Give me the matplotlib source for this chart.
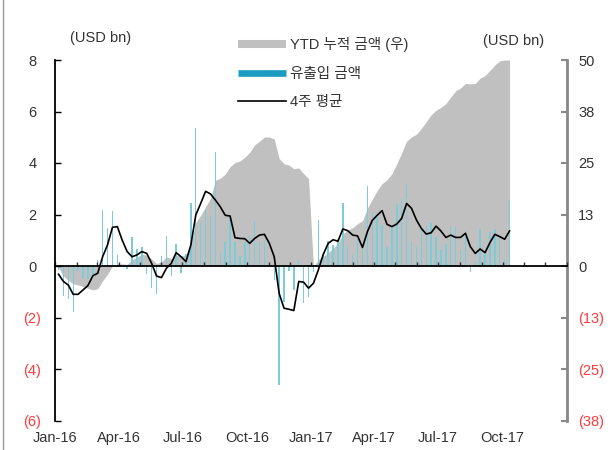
import matplotlib
matplotlib.use('Agg')
import matplotlib.pyplot as plt
from matplotlib.lines import Line2D
import pandas as pd

plt.rcParams['font.family'] = ['Liberation Sans', 'Noto Sans CJK KR']

# ---------------- data ----------------
start_date = '2016-01-06'   # weekly observations
n_weeks = 93

weekly_flow = [
    -0.15, -1.15, -1.30, -1.80, -0.20, -0.48, -0.50, -0.35, 0.23, 2.17,
    1.46, 2.14, 0.43, -0.03, -0.10, 1.11, 0.65, 0.75, -0.31, -0.87,
    -1.09, 0.39, 1.17, -0.38, 0.85, -0.26, 0.45, 2.43, 5.35, 1.66,
    2.17, 1.94, 4.44, 0.49, 0.95, 1.85, 0.95, 0.39, 0.95, 1.20,
    1.76, 0.95, 1.00, 0.05, -0.55, -4.62, -1.39, -0.20, -0.95, 0.22,
    -1.45, -1.20, -0.25, 1.80, 0.52, 0.98, 0.82, 1.04, 2.46, 0.72,
    0.43, 1.04, 0.69, 3.10, 2.07, 2.00, 1.60, 0.75, 1.46, 2.40,
    2.59, 3.18, 0.94, 0.75, 1.40, 1.55, 1.68, 1.14, 0.62, 0.85,
    1.53, 1.50, 0.62, 1.36, -0.22, 0.14, 1.44, 0.47, 1.31, 1.44,
    1.17, 0.27, 2.56,
]

avg_4w = [
    -0.32, -0.60, -0.74, -1.10, -1.10, -0.93, -0.76, -0.38, -0.28, 0.36,
    0.82, 1.50, 1.53, 1.00, 0.56, 0.36, 0.43, 0.56, 0.49, 0.10,
    -0.39, -0.45, -0.09, 0.10, 0.52, 0.36, 0.17, 0.82, 1.98, 2.43,
    2.90, 2.80, 2.56, 2.30, 1.97, 1.94, 1.10, 1.07, 1.06, 0.88,
    1.07, 1.20, 1.23, 0.88, 0.36, -1.06, -1.64, -1.68, -1.73, -0.60,
    -0.63, -0.86, -0.67, -0.15, 0.45, 0.88, 1.02, 0.96, 1.44, 1.37,
    1.20, 1.17, 0.72, 1.33, 1.77, 1.97, 2.15, 1.62, 1.53, 1.63,
    1.85, 2.43, 2.24, 1.79, 1.46, 1.24, 1.29, 1.55, 1.36, 1.11,
    1.20, 1.11, 1.11, 1.27, 0.75, 0.49, 0.66, 0.52, 0.91, 1.23,
    1.14, 1.04, 1.36,
]

ytd_2016 = [
    -0.3, -2.4, -3.5, -4.3, -4.6, -5.0, -5.4, -5.8, -5.5, -3.6,
    -2.0, 0.0, 0.5, 0.5, 0.4, 1.5, 2.1, 2.9, 2.6, 1.7,
    0.6, 1.0, 2.2, 1.8, 2.6, 2.4, 2.8, 5.3, 10.6, 12.3,
    14.4, 16.4, 20.8, 21.3, 22.3, 24.1, 25.1, 25.5, 26.4, 27.6,
    29.4, 30.3, 31.3, 31.3, 30.8, 26.1, 24.8, 24.5, 23.6, 23.8,
    22.4, 21.2,
]
ytd_2017 = [
    -0.2, 1.6, 2.3, 3.3, 4.3, 5.5, 7.8, 8.7, 9.3, 10.3,
    11.0, 14.0, 16.2, 18.3, 20.0, 20.9, 22.4, 24.8, 27.5, 30.3,
    31.3, 32.0, 33.4, 35.0, 36.7, 37.8, 38.5, 39.4, 41.0, 42.5,
    43.2, 44.3, 44.2, 44.3, 45.6, 46.2, 47.5, 48.8, 49.8, 50.0,
    50.0,
]

left_ticks = [-6, -4, -2, 0, 2, 4, 6, 8]
left_labels = ['(6)', '(4)', '(2)', '0', '2', '4', '6', '8']
right_ticks = [-37.5, -25, -12.5, 0, 12.5, 25, 37.5, 50]
right_labels = ['(38)', '(25)', '(13)', '0', '13', '25', '38', '50']
x_tick_dates = ['2016-01-01', '2016-04-01', '2016-07-01', '2016-10-01',
                '2017-01-01', '2017-04-01', '2017-07-01', '2017-10-01']
x_tick_labels = ['Jan-16', 'Apr-16', 'Jul-16', 'Oct-16',
                 'Jan-17', 'Apr-17', 'Jul-17', 'Oct-17']
legend_labels = ['YTD 누적 금액 (우)', '유출입 금액', '4주 평균']
unit_label = '(USD bn)'

# ---------------- styling ----------------
W, H = 613, 450
FS = 10.5
TXT = '#333333'
RED = '#ff3b3b'
AREA = '#c0c0c0'
BAR = '#7ccbd9'
LEG_BAR = '#1a9cc0'

dates = pd.date_range(start_date, periods=n_weeks, freq='7D')
ytd = ytd_2016 + ytd_2017

fig = plt.figure(figsize=(W / 100, H / 100), dpi=100)
ax = fig.add_axes([55 / W, 1 - 420.5 / H, (567 - 55) / W, (420.5 - 60) / H])
ax2 = ax.twinx()
ax.set_zorder(2)
ax2.set_zorder(1)
ax.patch.set_visible(False)

# area on right axis
ax2.fill_between(dates, 0, ytd, color=AREA, lw=0)
# weekly bars and 4-week avg on left axis
ax.bar(dates, weekly_flow, width=2.0, color=BAR, lw=0, zorder=1)
ax.plot(dates, avg_4w, color='black', lw=1.2, zorder=3)

ax.set_xlim(pd.Timestamp('2016-01-01'), pd.Timestamp('2018-01-01'))
ax.set_ylim(-6, 8)
ax2.set_ylim(-37.5, 50)

# spines
ax.spines['top'].set_visible(False)
ax.spines['right'].set_visible(False)
ax.spines['bottom'].set_position(('data', 0))
ax.spines['bottom'].set_color('black')
ax.spines['bottom'].set_linewidth(1.3)
ax.spines['left'].set_color('black')
ax.spines['left'].set_linewidth(1.3)
for s in ['left', 'top', 'bottom']:
    ax2.spines[s].set_visible(False)
ax2.spines['right'].set_color('#888888')
ax2.spines['right'].set_linewidth(2.0)

# left y ticks
ax.set_yticks(left_ticks, left_labels)
ax.tick_params(axis='y', direction='in', length=4, width=1, color='black',
               pad=16.2, labelsize=FS)
for lbl, v in zip(ax.get_yticklabels(), left_ticks):
    lbl.set_color(RED if v < 0 else TXT)
    lbl.set_horizontalalignment('center')

# right y ticks
ax2.set_yticks(right_ticks, right_labels)
ax2.tick_params(axis='y', direction='in', length=4, width=1.5, color='#888888',
                pad=8, labelsize=FS)
for lbl, v in zip(ax2.get_yticklabels(), right_ticks):
    lbl.set_color(RED if v < 0 else TXT)

# x ticks: monthly minor ticks on zero line, quarterly labels at bottom
ax.set_xticks(pd.to_datetime(x_tick_dates), x_tick_labels)
ax.set_xticks(pd.date_range('2016-01-01', '2018-01-01', freq='MS'), minor=True)
ax.tick_params(axis='x', which='both', direction='in', length=3, width=1,
               color='#333333')
ax.tick_params(axis='x', which='major', pad=119, labelsize=FS, labelcolor=TXT)

# legend
handles = [
    Line2D([0], [0], color=AREA, lw=5.8, solid_capstyle='butt'),
    Line2D([0], [0], color=LEG_BAR, lw=4.8, solid_capstyle='butt'),
    Line2D([0], [0], color='black', lw=1.2),
]
fig.legend(handles, legend_labels, loc='upper left',
           bbox_to_anchor=(237.7 / W, 1 - 37.5 / H), bbox_transform=fig.transFigure,
           frameon=False, fontsize=FS, handlelength=3.3, handletextpad=0.3,
           labelspacing=0.98, borderpad=0, borderaxespad=0, labelcolor=TXT)

# unit labels
fig.text(70 / W, 1 - 38.3 / H, unit_label, ha='left', va='center', fontsize=FS, color=TXT)
fig.text(482.7 / W, 1 - 40.7 / H, unit_label, ha='left', va='center', fontsize=FS, color=TXT)

# frame line on the left
fig.add_artist(Line2D([3 / W, 3 / W], [0, 1], color='#999999', lw=1,
                      transform=fig.transFigure))

fig.savefig('out.png', dpi=100)
